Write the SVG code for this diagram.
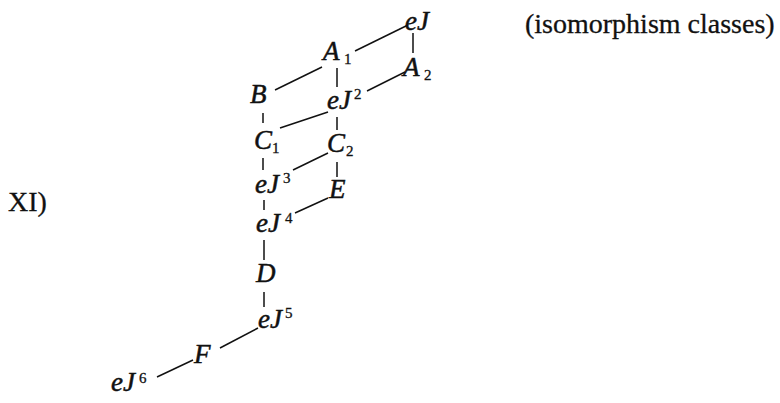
<svg xmlns="http://www.w3.org/2000/svg" width="780" height="403" viewBox="0 0 780 403">
<style>
.m{font-family:"Liberation Serif",serif;font-style:italic;font-size:27px;fill:#111;stroke:#111;stroke-width:0.5}
.d{font-family:"Liberation Serif",serif;font-style:normal;font-size:15px;fill:#111;stroke:#111;stroke-width:0.3}
.t{font-family:"Liberation Serif",serif;font-size:28px;fill:#111;stroke:#111;stroke-width:0.3}
.c line{stroke:#111;stroke-width:1.5}
</style>
<rect width="780" height="403" fill="#fff"/>
<text class="t" x="8" y="211">XI)</text>
<text class="t" x="525" y="33">(isomorphism classes)</text>
<g class="c" id="connectors">
<line x1="355" y1="51" x2="408" y2="25"/>
<line x1="322" y1="67" x2="275" y2="90"/>
<line x1="337" y1="68" x2="337" y2="87"/>
<line x1="413" y1="33" x2="413" y2="53"/>
<line x1="405" y1="72" x2="367" y2="91"/>
<line x1="263" y1="113" x2="263" y2="123"/>
<line x1="328" y1="112" x2="280" y2="128"/>
<line x1="337" y1="117" x2="337" y2="130"/>
<line x1="263" y1="158" x2="263" y2="170"/>
<line x1="328" y1="153" x2="293" y2="170"/>
<line x1="337" y1="162" x2="337" y2="177"/>
<line x1="264" y1="200" x2="264" y2="210"/>
<line x1="328" y1="198" x2="295" y2="213"/>
<line x1="264" y1="240" x2="264" y2="260"/>
<line x1="264" y1="292" x2="264" y2="307"/>
<line x1="258" y1="328" x2="220" y2="348"/>
<line x1="193" y1="360" x2="157" y2="377"/>
</g>
<g id="eJ"><text class="m" x="405" y="30">eJ</text></g>
<g id="A1"><text class="m" x="323" y="60">A</text><text class="d" x="344" y="64">1</text></g>
<g id="A2"><text class="m" x="403" y="76">A</text><text class="d" x="424" y="80">2</text></g>
<g id="B"><text class="m" x="250" y="103">B</text></g>
<g id="eJ2"><text class="m" x="327" y="109">eJ</text><text class="d" x="354" y="99">2</text></g>
<g id="C1"><text class="m" x="254" y="149">C</text><text class="d" x="272" y="153">1</text></g>
<g id="C2"><text class="m" x="327" y="152">C</text><text class="d" x="346" y="156">2</text></g>
<g id="eJ3"><text class="m" x="255" y="193">eJ</text><text class="d" x="283" y="183">3</text></g>
<g id="E"><text class="m" x="329" y="198">E</text></g>
<g id="eJ4"><text class="m" x="256" y="232">eJ</text><text class="d" x="285" y="223">4</text></g>
<g id="D"><text class="m" x="256" y="282">D</text></g>
<g id="eJ5"><text class="m" x="258" y="328">eJ</text><text class="d" x="285" y="318">5</text></g>
<g id="F"><text class="m" x="194" y="363">F</text></g>
<g id="eJ6"><text class="m" x="111" y="391">eJ</text><text class="d" x="139" y="383">6</text></g>
</svg>
